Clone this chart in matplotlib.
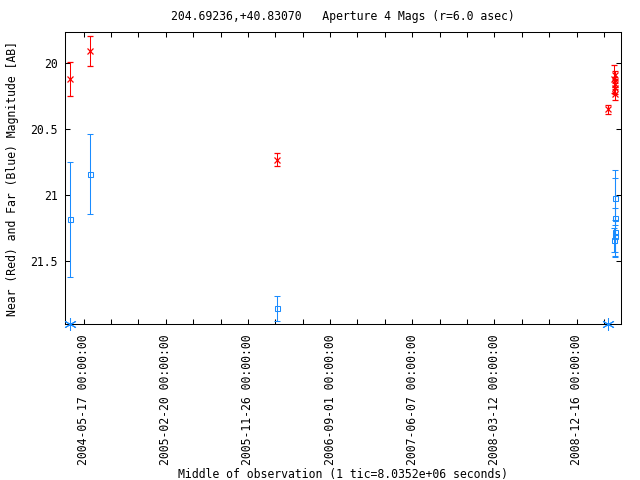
import matplotlib
matplotlib.use('Agg')
import matplotlib.pyplot as plt
import matplotlib.dates as mdates
from matplotlib.ticker import AutoMinorLocator
import datetime as dt

# near (red) aperture magnitudes
near_dates = ['2004-04-01', '2004-06-08', '2006-03-06', '2009-04-01',
              '2009-04-22', '2009-04-24', '2009-04-25', '2009-04-27', '2009-04-24']
near_mag = [20.117, 19.904, 20.731, 20.347, 20.12, 20.09, 20.16, 20.19, 20.23]
near_err = [0.13, 0.113, 0.048, 0.034, 0.107, 0.03, 0.035, 0.04, 0.05]

# far (blue) aperture magnitudes
far_dates = ['2004-04-01', '2004-06-08', '2006-03-06',
             '2009-04-25', '2009-04-24', '2009-04-22', '2009-04-26', '2009-04-24']
far_mag = [21.184, 20.841, 21.859, 21.02, 21.28, 21.34, 21.31, 21.17]
far_err = [0.437, 0.304, 0.097, 0.21, 0.18, 0.09, 0.12, 0.3]

# points drawn on the bottom edge
edge_dates = ['2004-04-01', '2009-04-01']

tick_dates = ['2004-05-17', '2005-02-20', '2005-11-26', '2006-09-01',
              '2007-06-07', '2008-03-12', '2008-12-16']
yticks = [20, 20.5, 21, 21.5]

def d(s):
	return dt.datetime.strptime(s, '%Y-%m-%d')

FONT = 'DejaVu Sans Mono'
FS = 8.3
RED = '#ff0000'
BLUE = '#1a8cff'

fig = plt.figure(figsize=(6.4, 4.8), dpi=100)
ax = fig.add_axes([0.102, 0.325, 0.868, 0.6083])

lw = 0.75
ax.errorbar([d(s) for s in near_dates], near_mag, yerr=near_err, fmt='x', color=RED,
	ecolor=RED, elinewidth=lw, capsize=2.4, capthick=lw, markersize=4.2, mew=0.9)
ax.errorbar([d(s) for s in far_dates], far_mag, yerr=far_err, fmt='s', color=BLUE,
	ecolor=BLUE, elinewidth=lw, capsize=2.4, capthick=lw, markersize=3.6, mew=lw,
	mfc='none')

ylo, yhi = 21.977, 19.763
ax.plot([d(s) for s in edge_dates], [ylo] * len(edge_dates), linestyle='none',
	marker=(6, 2, 0), markersize=9, mew=lw, color=BLUE, clip_on=False, zorder=5)

ax.set_xlim(d('2004-03-16'), d('2009-05-15'))
ax.set_ylim(ylo, yhi)

ax.set_xticks([d(s) for s in tick_dates])
ax.xaxis.set_major_formatter(mdates.DateFormatter('%Y-%m-%d %H:%M:%S'))
ax.xaxis.set_minor_locator(AutoMinorLocator(3))
ax.set_yticks(yticks)
ax.set_yticklabels(['20', '20.5', '21', '21.5'])

ax.tick_params(which='both', direction='in', length=3.6, width=lw, top=True, right=True,
	labelsize=FS)
ax.tick_params(axis='x', pad=7.5, labelrotation=90)
ax.tick_params(axis='y', pad=5.5)
for lab in ax.get_xticklabels() + ax.get_yticklabels():
	lab.set_family(FONT)
for sp in ax.spines.values():
	sp.set_linewidth(lw)

ax.set_title('204.69236,+40.83070   Aperture 4 Mags (r=6.0 asec)', family=FONT,
	fontsize=FS, pad=9)
ax.set_xlabel('Middle of observation (1 tic=8.0352e+06 seconds)', family=FONT, fontsize=FS,
	labelpad=2)
ax.set_ylabel('Near (Red) and Far (Blue) Magnitude [AB]', family=FONT, fontsize=FS,
	labelpad=8)

fig.savefig('out.png', dpi=100)
